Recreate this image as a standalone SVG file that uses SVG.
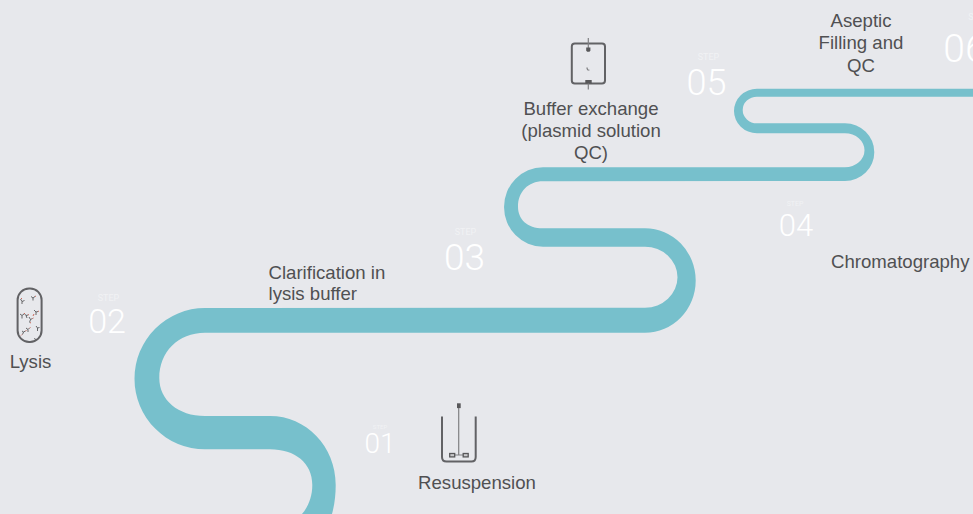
<svg xmlns="http://www.w3.org/2000/svg" width="973" height="514" viewBox="0 0 973 514">
<style>
.lbl{font-family:"Liberation Sans",Arial,sans-serif;font-size:18.6px;fill:#505052}
.mid{text-anchor:middle}
.num{font-family:Roboto,"Liberation Sans",sans-serif;font-weight:300;fill:#fff;text-anchor:middle}
.stp{font-family:Roboto,"Liberation Sans",sans-serif;fill:#f1f2f4;text-anchor:middle}
.ic{fill:none;stroke:#626265;stroke-width:2}
.fine{fill:none;stroke:#808083;stroke-width:1.2}
.dk{fill:#58585a}
.y1{fill:none;stroke:#58585a;stroke-width:.9}
.y2{fill:none;stroke:#c8675a;stroke-width:1}
</style>
<rect width="973" height="514" fill="#e7e8ec"/>
<g id="connectors">
<path fill="#77c0cc" d="M973 88.7L757 88.7A23 22.3 0 0 0 757 133.3L845 133.3A19.5 17 0 0 1 845 167.3L543 167.3A39 39.7 0 0 0 543 246.7L645 246.7A32.5 30.5 0 0 1 645 307.7L205 308A70.5 70.65 0 0 0 205 449.3L270 449.3C295 449.3 312.3 463 312.3 485C312.3 497 308 507 302 514L332 514C334.5 505 335.7 495 335.7 485C335.7 446 306 416 270 416L205 416C178 416 159.3 400 159.3 378C159.3 352 178 332.7 205 332.7L645 332.7A50.7 52.2 0 0 0 645 228.3L543 228.3C527 228.3 518 219 518 206.7C518 192 528 181.3 543 181.3L845 181A29.3 28.85 0 0 0 845 123.3L757 123.3A14.3 13.3 0 0 1 757 96.7L973 96.7Z"/>
</g>
<g id="step-01">
<text class="stp" x="380" y="429" font-size="6">STEP</text>
<text class="num" x="380" y="453" font-size="28">01</text>
<g id="icon-resuspension">
<path class="ic" d="M442 416.500V457Q442 461.500 446.500 461.500H471.500Q475.700 461.500 475.700 457V416.500"/>
<path class="fine" d="M458.700 408V455M450 455H468"/>
<rect class="dk" x="457" y="403.300" width="3.700" height="4.800"/>
<rect x="449.700" y="453.500" width="5" height="3.400" fill="#c9c9cc" stroke="#58585a" stroke-width="1.300"/>
<rect x="463.200" y="453.500" width="5" height="3.400" fill="#c9c9cc" stroke="#58585a" stroke-width="1.300"/>
</g>
<text class="lbl mid" x="477" y="488.500">Resuspension</text>
</g>
<g id="step-02">
<text class="stp" x="108.500" y="300.500" font-size="9">STEP</text>
<text class="num" x="107" y="333" font-size="34">02</text>
<g id="icon-lysis">
<rect class="ic" x="17.600" y="288.500" width="24" height="53.500" rx="11.500" stroke-width="1.500"/>
<path class="y1" d="M20.500 299l1.500 2.500l2.500-1M22 301.500v2.500M31 296.500l2 1.500l2-1.500M33 298v2.500M20 314l2 1.500l2-1.500M22 315.500v3M24 313l2 2.500l2-.5M26 315.500l1 2.500M29 317l1.500 2.500l2-1M30.500 319.500l-1 3M34 310l2 2l2-.5M36 312v3M36 326l1.500 2 2-.5M37.500 328v3M26 328l2 1.500 1.500-1.500M28 329.500v2.500M22 331l1.500 1 2-1M23.500 332l-1 2.500M34.500 338l1 2"/>
<path class="y2" d="M22 299l-1-1M35 296.500l1-.5M24 314l1-1M28 315l1-.5M32.500 318.500l1-.5M38 311.500l1-.5M33 316l1-2M30 322.500l1 .5M22 334.500l-1 1M29.500 328l1-.5M25.500 331l1-.5"/>
</g>
<text class="lbl mid" x="30.500" y="368">Lysis</text>
</g>
<g id="step-clarification">
<text class="lbl" x="268.500" y="278.500">Clarification in</text>
<text class="lbl" x="268.500" y="300">lysis buffer</text>
</g>
<g id="step-03">
<text class="stp" x="465.500" y="235" font-size="9">STEP</text>
<text class="num" x="464.500" y="270" font-size="37">03</text>
</g>
<g id="step-04">
<text class="stp" x="795" y="206" font-size="7">STEP</text>
<text class="num" x="796" y="236" font-size="31">04</text>
<text class="lbl" x="831" y="267.500">Chromatography</text>
</g>
<g id="step-05">
<text class="stp" x="708.500" y="60" font-size="9">STEP</text>
<text class="num" x="706.500" y="95" font-size="36">05</text>
<g id="icon-buffer">
<rect class="ic" x="571.800" y="43.500" width="33.200" height="40" rx="3"/>
<path class="fine" d="M588.300 38V50M588.300 83V89.500"/>
<path class="dk" d="M586.200 47.500h4.200v3.300l-1 1h-2.200l-1-1zM585.300 80h6.400v3.500h-6.400z"/>
<path class="fine" d="M586.800 67.500l.8 2.200 1.800.6"/>
</g>
<text class="lbl mid" x="591" y="114.500">Buffer exchange</text>
<text class="lbl mid" x="591" y="136.500">(plasmid solution</text>
<text class="lbl mid" x="591" y="159">QC)</text>
</g>
<g id="step-06">
<text class="stp" x="979" y="20" font-size="9">STEP</text>
<text class="num" x="965" y="62" font-size="39">06</text>
<text class="lbl mid" x="861" y="27">Aseptic</text>
<text class="lbl mid" x="861" y="49">Filling and</text>
<text class="lbl mid" x="861" y="72">QC</text>
</g>
</svg>
